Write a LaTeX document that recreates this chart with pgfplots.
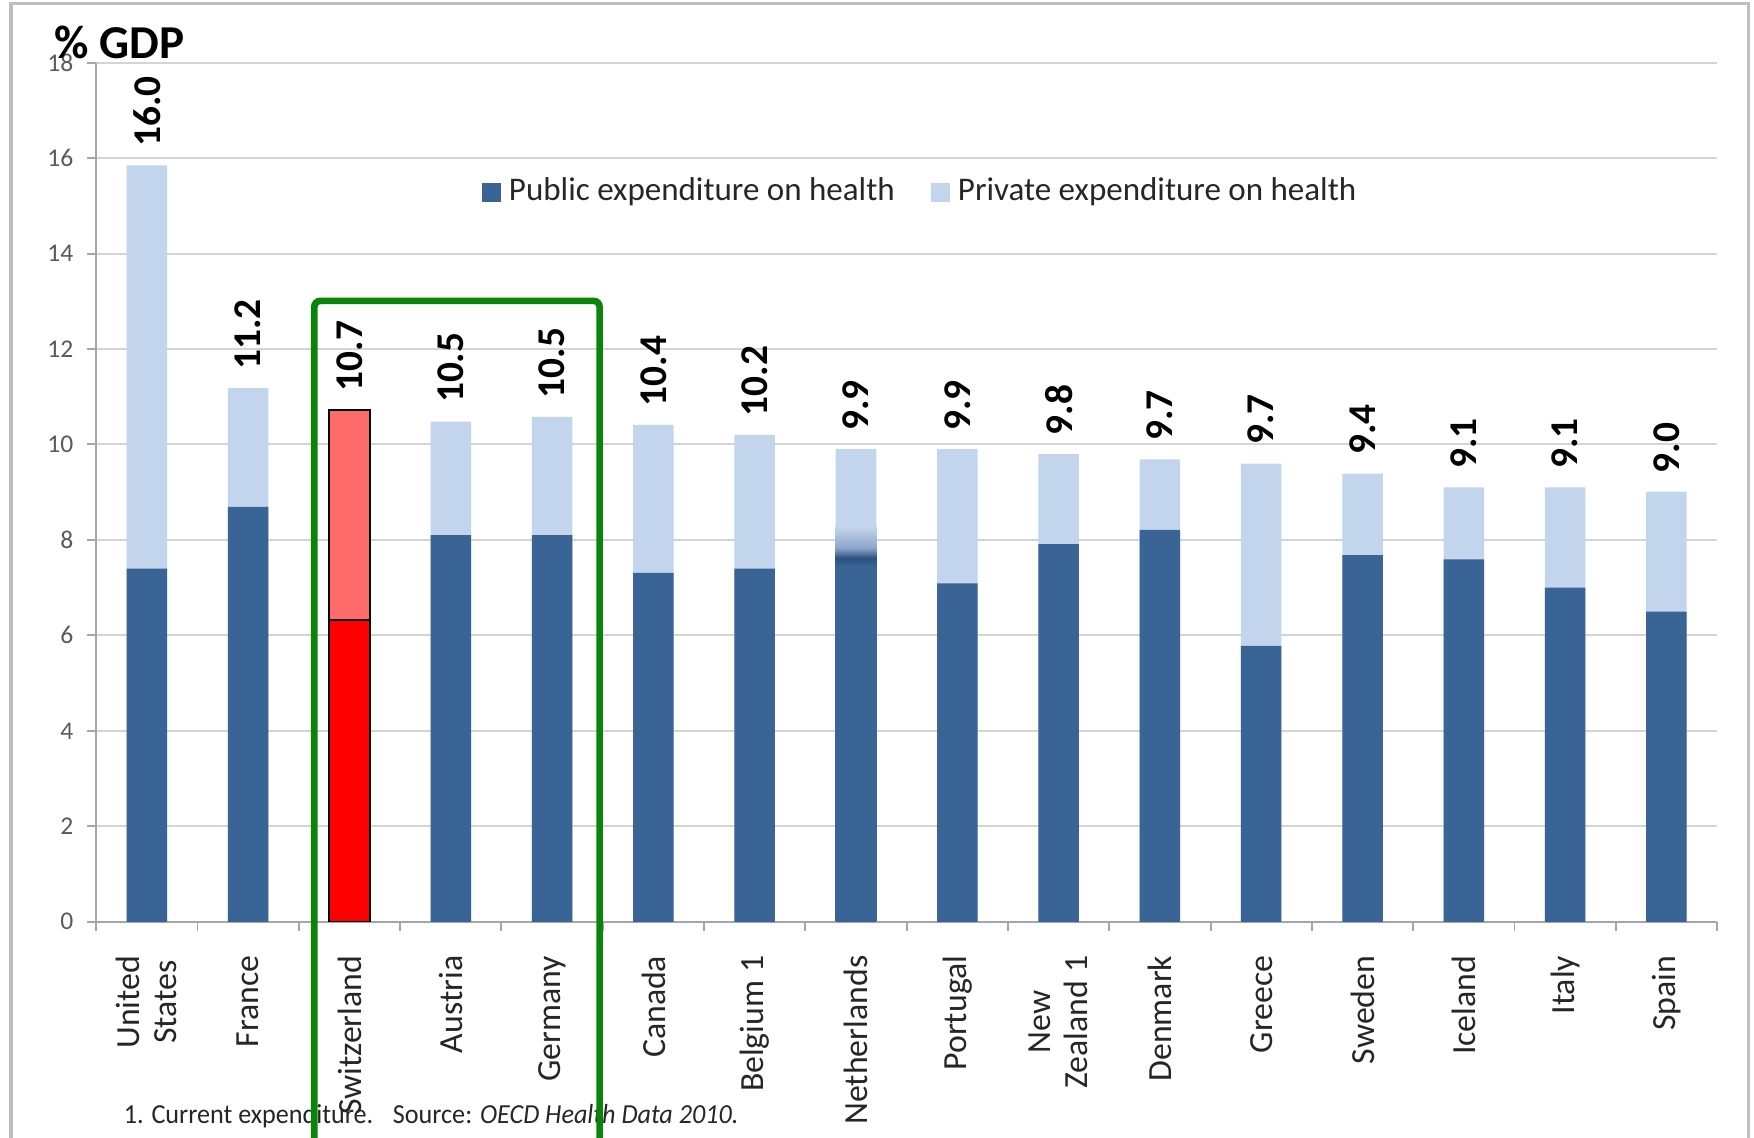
\documentclass[border=0pt]{standalone}
\usepackage{pgfplots}
\pgfplotsset{compat=1.18}
\usepackage{fontspec}
\setmainfont{Carlito}
\definecolor{pubblue}{HTML}{3A6496}
\definecolor{pubdark}{HTML}{2C4F7E}
\definecolor{midblue}{HTML}{8CA6CB}
\definecolor{privblue}{HTML}{C3D5EC}
\definecolor{privred}{HTML}{FF6B6B}
\definecolor{pubred}{HTML}{FF0000}
\definecolor{gridgray}{HTML}{D4D4D4}
\definecolor{axisgray}{HTML}{A6A6A6}
\definecolor{tickgray}{HTML}{595959}
\definecolor{txt}{HTML}{262626}
\definecolor{boxgreen}{HTML}{0A850A}
\definecolor{framegray}{HTML}{BEBEBE}
\pgfdeclareverticalshading{nlfade}{100bp}{color(0bp)=(pubblue); color(25bp)=(pubblue); color(70bp)=(pubblue); color(71bp)=(pubdark); color(72.3bp)=(midblue); color(75bp)=(privblue); color(100bp)=(privblue)}

% x, total bar top, label
\pgfplotstableread{
x total lab
0 15.85 16.0
1 11.18 11.2
3 10.48 10.5
4 10.58 10.5
5 10.41 10.4
6 10.20 10.2
7 9.90 9.9
8 9.90 9.9
9 9.80 9.8
10 9.69 9.7
11 9.60 9.7
12 9.39 9.4
13 9.10 9.1
14 9.10 9.1
15 9.01 9.0
}\totals
\pgfplotstableread{
x public
0 7.40
1 8.69
3 8.10
4 8.10
5 7.31
6 7.40
8 7.09
9 7.91
10 8.21
11 5.78
12 7.68
13 7.59
14 7.00
15 6.50
}\publics

\begin{document}
\begin{tikzpicture}
\path[use as bounding box] (0,0) rectangle (15.68,-10.17);
\draw[framegray, line width=0.9pt] (0.10,-0.03) rectangle (15.63,-10.6);
\begin{axis}[
  at={(0.86cm,-8.24cm)}, anchor=south west,
  scale only axis, width=14.49cm, height=7.68cm,
  xmin=-0.5, xmax=15.5, ymin=0, ymax=18,
  ytick={0,2,...,18},
  xtick={0,...,15},
  xticklabels={{United\\States},France,Switzerland,Austria,Germany,Canada,{Belgium 1},Netherlands,Portugal,{New\\Zealand 1},Denmark,Greece,Sweden,Iceland,Italy,Spain},
  minor xtick={-0.5,0.5,...,15.5},
  major x tick style={draw=none},
  tick align=outside, tick pos=left,
  major tick length=0.08cm, minor tick length=0.08cm,
  tick style={color=axisgray, line width=0.5pt},
  axis x line*=bottom, axis y line*=left,
  axis line style={axisgray, line width=0.6pt},
  ymajorgrids, grid style={gridgray, line width=0.5pt},
  /pgf/number format/assume math mode=true,
  yticklabel style={font=\fontsize{6.5}{7}\selectfont, text=tickgray},
  xticklabel style={rotate=90, anchor=east, align=center, font=\fontsize{8.6}{9.4}\selectfont, text=txt},
  xticklabel shift=0.1cm,
  legend style={at={(0.51,0.849)}, anchor=center, draw=none, fill=none,
    font=\fontsize{8.4}{10}\selectfont, text=txt,
    /tikz/every even column/.append style={column sep=0.25cm}},
  legend columns=2,
  legend cell align=left,
]
% totals (private on top)
\addplot[ybar, bar width=0.4, bar shift=0pt, fill=privblue, draw=none, forget plot,
  nodes near coords, point meta=explicit symbolic,
  every node near coord/.append style={rotate=90, anchor=west, inner xsep=0.16cm, inner ysep=0pt,
    font=\fontsize{10}{12}\selectfont\bfseries, text=black}]
  table[x=x, y=total, meta=lab] {\totals};
% Switzerland total
\addplot[ybar, bar width=0.4, bar shift=0pt, fill=privred, draw=black, line width=0.5pt, forget plot,
  nodes near coords, point meta=explicit symbolic,
  every node near coord/.append style={rotate=90, anchor=west, inner xsep=0.16cm, inner ysep=0pt,
    font=\fontsize{10}{12}\selectfont\bfseries, text=black}]
  coordinates {(2,10.72) [10.7]};
% public
\addplot[ybar, bar width=0.4, bar shift=0pt, fill=pubblue, draw=none, forget plot]
  table[x=x, y=public] {\publics};
% Netherlands public with fade
\addplot[ybar, bar width=0.4, bar shift=0pt, draw=none, shade, shading=nlfade, forget plot]
  coordinates {(7,8.28)};
% Switzerland public
\addplot[ybar, bar width=0.4, bar shift=0pt, fill=pubred, draw=black, line width=0.5pt, forget plot]
  coordinates {(2,6.32)};
\addlegendimage{legend image code/.code={\fill[pubblue] (0cm,-0.08cm) rectangle (0.16cm,0.08cm);}}
\addlegendentry{Public expenditure on health}
\addlegendimage{legend image code/.code={\fill[privblue] (0cm,-0.08cm) rectangle (0.16cm,0.08cm);}}
\addlegendentry{Private expenditure on health}
\end{axis}
\node[anchor=base west, font=\fontsize{12}{14}\selectfont\bfseries, text=black, inner sep=0pt] at (0.48,-0.52) {\% GDP};
\node[anchor=west, font=\fontsize{7}{8}\selectfont, text=txt, inner sep=0pt] at (1.10,-9.98) {\scalebox{0.95}[1]{1. Current expenditure.\hspace{0.75em}Source: \textit{OECD Health Data 2010.}}};
\draw[boxgreen, line width=1.7pt, rounded corners=1.5pt] (2.81,-2.69) rectangle (5.36,-10.8);
\end{tikzpicture}
\end{document}
